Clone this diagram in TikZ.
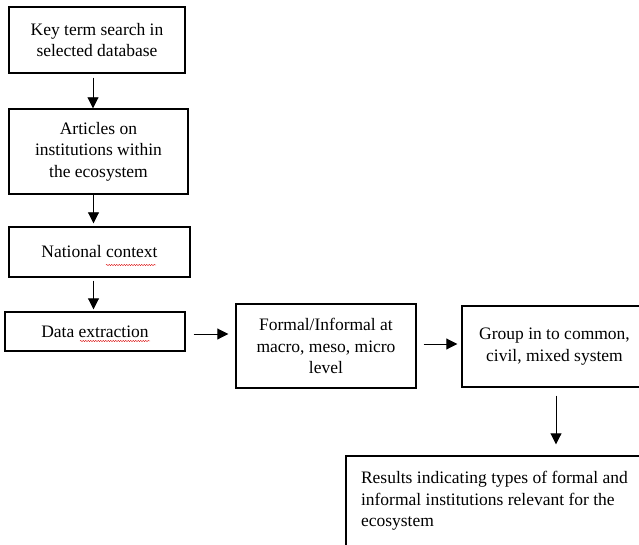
\documentclass[tikz,border=0pt]{standalone}
\usepackage{fontspec}
\setmainfont{Liberation Serif}
\usetikzlibrary{arrows.meta,decorations.pathmorphing}

\begin{document}
\begin{tikzpicture}[x=1pt, y=-1pt,
        box/.style={rectangle, draw, line width=1.4pt, align=center,
        inner sep=2pt, font=\fontsize{17.5}{21.5}\selectfont},
        arr/.style={-{Triangle[length=11pt,width=11pt]}, line width=0.9pt},
        squiggle/.style={red!85!black, line width=0.4pt,
        decorate, decoration={snake, amplitude=0.6pt, segment length=2.5pt}},
    ]
    \useasboundingbox (0,0) rectangle (639,545);

    %% left column
    \node[box, minimum width=176pt, minimum height=66pt] (search) at (97,40)
        {Key term search in\\selected database};
    \node[box, minimum width=179pt, minimum height=85pt] (articles) at (98.5,151.5)
        {Articles on\\institutions within\\the ecosystem};
    \node[box, minimum width=181pt, minimum height=50pt] (national) at (99.5,252)
        {National context};
    \node[box, minimum width=180pt, minimum height=39pt] (extract) at (95,331.5)
        {Data extraction};

    %% right side
    \node[box, minimum width=180pt, minimum height=84pt] (levels) at (326,346)
        {Formal/Informal at\\macro, meso, micro\\level};
    \node[box, minimum width=185pt, minimum height=81pt] (group) at (554.5,346.5)
        {Group in to common,\\civil, mixed system};
    \node[box, minimum height=90pt, align=flush left, inner xsep=15pt,
        text width=285pt] (results) at (503.5,501)
        {Results indicating types of formal and\\informal institutions relevant for the\\ecosystem};

    %% spell check marks
    \draw[squiggle] (106,265) -- (156,265);
    \draw[squiggle] (80,341) -- (150,341);

    %% arrows
    \draw[arr, shorten <=4pt] ([xshift=-4pt]search.south) -- ([xshift=-4pt]search.south |- articles.north);
    \draw[arr, shorten >=3pt] ([xshift=-5pt]articles.south) -- ([xshift=-5pt]articles.south |- national.north);
    \draw[arr, shorten <=3pt, shorten >=2pt] ([xshift=-6pt]national.south) -- ([xshift=-6pt]national.south |- extract.north);
    \draw[arr, shorten <=8pt, shorten >=7pt] (extract.east |- 0,334) -- (levels.west |- 0,334);
    \draw[arr, shorten <=7pt, shorten >=4pt] (levels.east |- 0,344) -- (group.west |- 0,344);
    \draw[arr, shorten <=8pt, shorten >=11pt] ([xshift=1.5pt]group.south) -- ([xshift=1.5pt]group.south |- results.north);

\end{tikzpicture}
\end{document}
